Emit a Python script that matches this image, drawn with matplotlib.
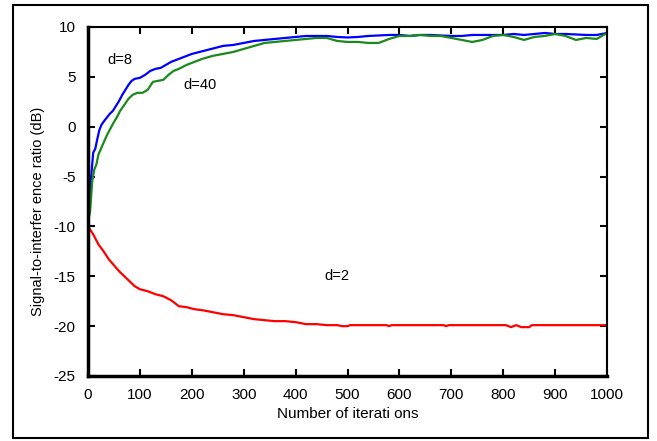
import matplotlib
matplotlib.use("Agg")
import matplotlib.pyplot as plt
from matplotlib.patches import Rectangle

plt.rcParams["font.family"] = ["Liberation Sans", "DejaVu Sans"]
plt.rcParams["axes.unicode_minus"] = False

# d=8 (blue)
x_d8 = [0, 3, 6, 10, 14, 18, 22, 26, 30, 36, 42, 48, 54, 60, 66, 72, 78, 84, 90,
        100, 110, 120, 130, 140, 150, 160, 170, 180, 190, 200, 215, 230, 245, 260,
        280, 300, 320, 340, 360, 380, 400, 420, 440, 460, 480, 500, 520, 540, 560,
        580, 600, 620, 640, 660, 680, 700, 720, 740, 760, 780, 800, 820, 840, 860,
        880, 900, 920, 940, 960, 980, 1000]
y_d8 = [-9.5, -7.5, -5.0, -2.6, -2.2, -1.2, -0.3, 0.2, 0.5, 0.9, 1.3, 1.6, 2.1, 2.6,
        3.2, 3.7, 4.2, 4.6, 4.8, 4.9, 5.2, 5.6, 5.8, 5.9, 6.2, 6.5, 6.7, 6.9, 7.1,
        7.3, 7.5, 7.7, 7.9, 8.1, 8.2, 8.4, 8.6, 8.7, 8.8, 8.9, 9.0, 9.1, 9.1, 9.1,
        9.0, 8.95, 9.0, 9.1, 9.15, 9.2, 9.2, 9.1, 9.2, 9.2, 9.15, 9.1, 9.1, 9.2,
        9.2, 9.2, 9.2, 9.3, 9.2, 9.3, 9.4, 9.3, 9.3, 9.25, 9.2, 9.2, 9.4]

# d=40 (green)
x_d40 = [0, 4, 8, 12, 16, 20, 25, 30, 36, 42, 48, 55, 62, 70, 78, 86, 95, 105, 115,
         125, 135, 145, 155, 165, 175, 190, 205, 220, 240, 260, 280, 300, 320, 340,
         360, 380, 400, 420, 440, 460, 480, 500, 520, 540, 560, 580, 600, 620, 640,
         660, 680, 700, 720, 740, 760, 780, 800, 820, 840, 860, 880, 900, 920, 940,
         960, 980, 1000]
y_d40 = [-9.5, -8.5, -5.5, -4.3, -3.8, -2.8, -2.2, -1.6, -0.9, -0.3, 0.3, 0.9, 1.6,
         2.2, 2.8, 3.2, 3.4, 3.4, 3.7, 4.5, 4.6, 4.7, 5.2, 5.6, 5.8, 6.2, 6.5, 6.8,
         7.1, 7.3, 7.5, 7.8, 8.1, 8.4, 8.5, 8.6, 8.7, 8.8, 8.9, 8.9, 8.6, 8.5, 8.5,
         8.4, 8.4, 8.8, 9.1, 9.1, 9.2, 9.1, 9.1, 8.9, 8.7, 8.5, 8.7, 9.1, 9.2, 9.0,
         8.7, 9.0, 9.1, 9.3, 9.1, 8.7, 8.9, 8.8, 9.4]

# d=2 (red)
x_d2 = [0, 10, 20, 30, 40, 50, 60, 70, 80, 90, 100, 115, 130, 145, 160, 175, 190,
        205, 220, 240, 260, 280, 300, 320, 340, 360, 380, 400, 420, 440, 460, 480,
        490, 500, 505, 575, 580, 585, 685, 690, 695, 805, 815, 825, 835, 850, 855,
        1000]
y_d2 = [-10.0, -10.8, -11.8, -12.5, -13.3, -13.9, -14.5, -15.0, -15.5, -16.0, -16.3,
        -16.5, -16.8, -17.0, -17.4, -18.0, -18.1, -18.3, -18.4, -18.6, -18.8, -18.9,
        -19.1, -19.3, -19.4, -19.5, -19.5, -19.6, -19.8, -19.8, -19.9, -19.9, -20.0,
        -20.0, -19.9, -19.9, -20.0, -19.9, -19.9, -20.0, -19.9, -19.9, -20.1, -19.9,
        -20.1, -20.1, -19.9, -19.9]

x_ticks = list(range(0, 1001, 100))
y_ticks = list(range(-25, 11, 5))

fig = plt.figure(figsize=(6.57, 4.41), dpi=100)
fig.patches.append(Rectangle((0.0198, 0.0068), 0.9665, 0.982, transform=fig.transFigure,
                             fill=False, edgecolor="black", linewidth=1.5))

ax = fig.add_axes([0.134, 0.1474, 0.790, 0.7914])
ax.plot(x_d8, y_d8, color="#0000ff", linewidth=1.6)
ax.plot(x_d40, y_d40, color="#1a8a1a", linewidth=1.6)
ax.plot(x_d2, y_d2, color="#ff0000", linewidth=1.6)

ax.text(62, 6.7, "d=8", fontsize=10.5, ha="center", va="center")
ax.text(216, 4.2, "d=40", fontsize=10.5, ha="center", va="center")
ax.text(480, -15.0, "d=2", fontsize=10.5, ha="center", va="center")

ax.set_xlim(0, 1000)
ax.set_ylim(-25, 10)
ax.set_xticks(x_ticks)
ax.set_yticks(y_ticks)
ax.tick_params(direction="in", length=5, width=1.5, labelsize=11,
               top=True, right=True, pad=9)
ax.tick_params(axis="y", pad=9)
for side in ["left", "bottom"]:
    ax.spines[side].set_linewidth(2.5)
for side in ["top", "right"]:
    ax.spines[side].set_linewidth(1.5)

ax.set_xlabel("Number of iterati ons", fontsize=11, labelpad=3)
ax.set_ylabel("Signal-to-interfer ence ratio (dB)", fontsize=10.5)
ax.yaxis.set_label_coords(-0.083, 0.473)

fig.savefig("out.png", dpi=100)
